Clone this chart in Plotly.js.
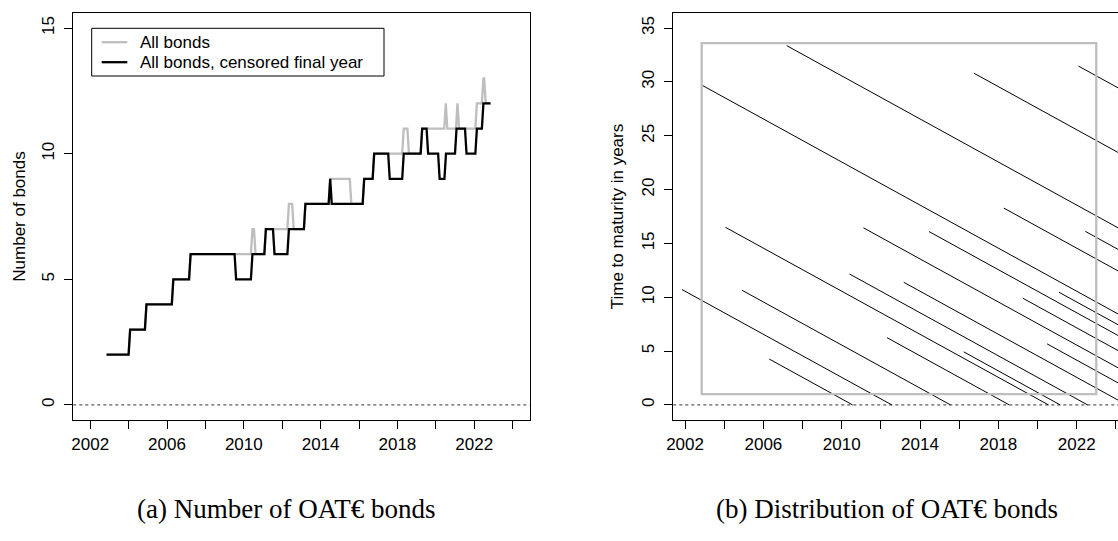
<!DOCTYPE html>
<html><head><meta charset="utf-8">
<script src="https://cdn.plot.ly/plotly-3.0.1.min.js"></script>
<style>html,body{margin:0;padding:0;background:#fff;} #chart{width:1118px;height:541px;}</style>
</head><body><div id="chart"></div>
<script>
// ---------- Panel (a): number of OAT€ bonds (vertices) ----------
const allBondsYear = [2002.85, 2004.0, 2004.08, 2004.85, 2004.93, 2006.25, 2006.33, 2007.15, 2007.23,
  2010.37, 2010.45, 2010.53, 2010.61, 2011.07, 2011.15, 2012.27, 2012.35, 2012.52, 2012.6,
  2013.13, 2013.21, 2014.42, 2014.5, 2015.52, 2015.6, 2016.19, 2016.27, 2016.71, 2016.79,
  2018.25, 2018.33, 2018.52, 2018.6, 2019.21, 2019.29, 2020.44, 2020.52, 2020.6,
  2021.05, 2021.13, 2021.21, 2022.06, 2022.14, 2022.40, 2022.48, 2022.52, 2022.6, 2022.85];
const allBondsCount = [2, 2, 3, 3, 4, 4, 5, 5, 6,
  6, 7, 7, 6, 6, 7, 7, 8, 8, 7,
  7, 8, 8, 9, 9, 8, 8, 9, 9, 10,
  10, 11, 11, 10, 10, 11, 11, 12, 11,
  11, 12, 11, 11, 12, 12, 13, 13, 12, 12];

const censoredYear = [2002.85, 2004.0, 2004.08, 2004.85, 2004.93, 2006.25, 2006.33, 2007.15, 2007.23,
  2009.52, 2009.6, 2010.37, 2010.45, 2011.07, 2011.15, 2011.52, 2011.6, 2012.27, 2012.35,
  2013.13, 2013.21, 2014.42, 2014.5, 2014.58, 2016.19, 2016.27, 2016.71, 2016.79,
  2017.52, 2017.6, 2018.25, 2018.33, 2019.21, 2019.29, 2019.52, 2019.6, 2020.12, 2020.2,
  2020.45, 2020.53, 2021.0, 2021.08, 2021.52, 2021.6, 2022.06, 2022.14, 2022.40, 2022.48, 2022.85];
const censoredCount = [2, 2, 3, 3, 4, 4, 5, 5, 6,
  6, 5, 5, 6, 6, 7, 7, 6, 6, 7,
  7, 8, 8, 9, 8, 8, 9, 9, 10,
  10, 9, 9, 10, 10, 11, 11, 10, 10, 9,
  9, 10, 10, 11, 11, 10, 10, 11, 11, 12, 12];

const seriesNames = ['All bonds', 'All bonds, censored final year'];
const seriesColors = ['#bebebe', '#000000'];

// ---------- Panel (b): distribution of OAT€ bonds ----------
const bondIssue    = [2001.84, 2002.88, 2004.06, 2004.90, 2006.30, 2007.19, 2010.40, 2011.11, 2012.31,
  2013.17, 2014.46, 2016.23, 2016.75, 2018.28, 2019.25, 2020.49, 2021.09, 2022.09, 2022.44];
const bondMaturity = [2012.56, 2032.56, 2020.56, 2015.56, 2010.56, 2040.56, 2022.56, 2027.56, 2018.56,
  2024.56, 2030.56, 2021.16, 2047.56, 2036.56, 2029.16, 2026.16, 2031.56, 2053.56, 2038.56];
const sampleStart = 2002.85, sampleEnd = 2023.0;
const ttmMin = 1.0, ttmMax = 33.6;

// ---------- Ticks ----------
const xTickVals = [2002, 2004, 2006, 2008, 2010, 2012, 2014, 2016, 2018, 2020, 2022, 2024];
const xTickText = ['2002', '', '2006', '', '2010', '', '2014', '', '2018', '', '2022', ''];
const yTicksA = [0, 5, 10, 15];
const yTicksB = [0, 5, 10, 15, 20, 25, 30, 35];

const W = 1118, H = 541;
const FONT = 'Liberation Sans, Arial, Helvetica, sans-serif';
const px = v => v / W;          // horizontal pixel -> paper
const py = v => 1 - v / H;      // vertical pixel (from top) -> paper

// segments for panel (b)
const segX = [], segY = [];
for (let i = 0; i < bondIssue.length; i++) {
  segX.push(bondIssue[i], bondMaturity[i], null);
  segY.push(bondMaturity[i] - bondIssue[i], 0, null);
}

const traces = [
  {x: allBondsYear, y: allBondsCount, type: 'scatter', mode: 'lines', name: seriesNames[0],
   line: {color: seriesColors[0], width: 2.3}, xaxis: 'x', yaxis: 'y', showlegend: false},
  {x: censoredYear, y: censoredCount, type: 'scatter', mode: 'lines', name: seriesNames[1],
   line: {color: seriesColors[1], width: 2.3}, xaxis: 'x', yaxis: 'y', showlegend: false},
  {x: segX, y: segY, type: 'scatter', mode: 'lines', showlegend: false, name: 'bonds',
   line: {color: '#000000', width: 1}, xaxis: 'x2', yaxis: 'y2', hoverinfo: 'skip'}
];

const axisCommon = {
  showgrid: false, zeroline: false, showline: true, linecolor: '#000', linewidth: 1,
  ticks: 'outside', ticklen: 8, tickwidth: 1, tickcolor: '#000',
  tickfont: {family: FONT, size: 17, color: '#000'}
};

// legend box (drawn like R's legend)
const legRow = [42.2, 62.2];
const legendShapes = [
  {type: 'rect', xref: 'paper', yref: 'paper', x0: px(91.7), x1: px(384), y0: py(76), y1: py(28.3),
   line: {color: '#000', width: 1}, fillcolor: '#fff', layer: 'above'},
  {type: 'line', xref: 'paper', yref: 'paper', x0: px(101.7), x1: px(127.3), y0: py(legRow[0]), y1: py(legRow[0]),
   line: {color: seriesColors[0], width: 2.3}, layer: 'above'},
  {type: 'line', xref: 'paper', yref: 'paper', x0: px(101.7), x1: px(127.3), y0: py(legRow[1]), y1: py(legRow[1]),
   line: {color: seriesColors[1], width: 2.3}, layer: 'above'}
];
const legendText = [0, 1].map(i => ({
  text: seriesNames[i], xref: 'paper', yref: 'paper', x: px(138.5), y: py(legRow[i]), xanchor: 'left',
  yanchor: 'middle', showarrow: false, borderpad: 0, font: {family: FONT, size: 17, color: '#000'}
}));

const layout = {
  width: W, height: H,
  margin: {l: 0, r: 0, t: 0, b: 0},
  paper_bgcolor: '#fff', plot_bgcolor: '#fff',
  showlegend: false,
  xaxis: Object.assign({}, axisCommon, {domain: [px(73.3), px(529.5)], range: [2001.12, 2024.88],
    tickmode: 'array', tickvals: xTickVals, ticktext: xTickText, mirror: true, anchor: 'y',
    ticklabelstandoff: 1}),
  yaxis: Object.assign({}, axisCommon, {domain: [py(420), py(13)], range: [-0.6, 15.6],
    tickmode: 'array', tickvals: yTicksA, tickangle: -90, mirror: true, anchor: 'x',
    ticklabelstandoff: 4,
    title: {text: 'Number of bonds', font: {family: FONT, size: 17, color: '#000'}, standoff: 8}}),
  xaxis2: Object.assign({}, axisCommon, {domain: [px(673.3), 1], range: [2001.40, 2024.11],
    tickmode: 'array', tickvals: xTickVals, ticktext: xTickText, mirror: true, anchor: 'y2',
    ticklabelstandoff: 1}),
  yaxis2: Object.assign({}, axisCommon, {domain: [py(420), py(13)], range: [-1.4, 36.4],
    tickmode: 'array', tickvals: yTicksB, tickangle: -90, mirror: false, anchor: 'x2',
    ticklabelstandoff: 4,
    title: {text: 'Time to maturity in years', font: {family: FONT, size: 17, color: '#000'}, standoff: 10}}),
  shapes: [
    {type: 'line', xref: 'x domain', yref: 'y', x0: 0, x1: 1, y0: 0, y1: 0,
     line: {color: '#333', width: 1, dash: 'dot'}, layer: 'below'},
    {type: 'line', xref: 'x2 domain', yref: 'y2', x0: 0, x1: 1, y0: 0, y1: 0,
     line: {color: '#333', width: 1, dash: 'dot'}, layer: 'below'},
    {type: 'rect', xref: 'x2', yref: 'y2', x0: sampleStart, x1: sampleEnd, y0: ttmMin, y1: ttmMax,
     line: {color: '#bebebe', width: 2.3}, fillcolor: 'rgba(0,0,0,0)', layer: 'above'}
  ].concat(legendShapes),
  annotations: [
    {text: '(a) Number of OAT€ bonds', xref: 'paper', yref: 'paper', x: px(286), y: py(509),
     xanchor: 'center', yanchor: 'middle', showarrow: false,
     font: {family: 'Liberation Serif, Times New Roman, serif', size: 27, color: '#000'}},
    {text: '(b) Distribution of OAT€ bonds', xref: 'paper', yref: 'paper', x: px(887), y: py(509),
     xanchor: 'center', yanchor: 'middle', showarrow: false,
     font: {family: 'Liberation Serif, Times New Roman, serif', size: 27, color: '#000'}}
  ].concat(legendText)
};

Plotly.newPlot('chart', traces, layout, {displayModeBar: false, staticPlot: true});
</script>
</body></html>
